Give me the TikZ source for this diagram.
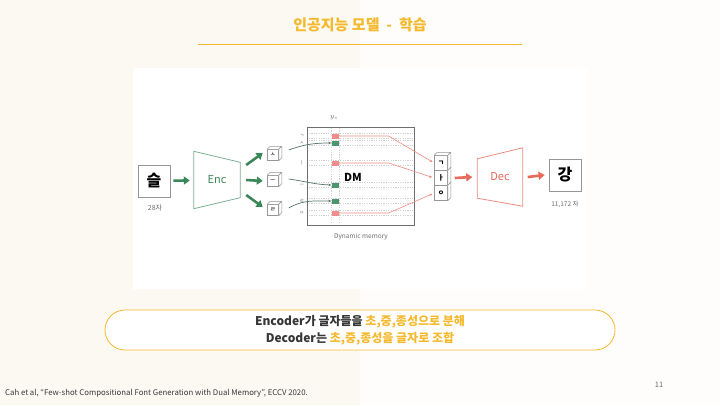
\documentclass[tikz,border=0pt]{standalone}
\usepackage{fontspec}
\setmainfont{Noto Sans CJK KR}
\usetikzlibrary{arrows.meta}
\definecolor{creambg}{RGB}{252,249,242}
\definecolor{titleyellow}{RGB}{245,185,45}
\definecolor{textdark}{RGB}{55,55,55}
\definecolor{labelgrey}{RGB}{110,110,110}
\definecolor{boxgrey}{RGB}{150,150,150}
\definecolor{encgreen}{RGB}{60,135,90}
\definecolor{encline}{RGB}{125,178,145}
\definecolor{decred}{RGB}{230,105,90}
\definecolor{decline}{RGB}{236,140,128}
\definecolor{slotgreen}{RGB}{75,150,110}
\definecolor{slotred}{RGB}{240,140,140}
\definecolor{writeteal}{RGB}{85,115,105}

\begin{document}
\begin{tikzpicture}[x=1pt,y=-1pt]
        \tikzstyle{every node}+=[inner sep=0pt]
        \tikzstyle{glyphbox}=[draw=boxgrey,line width=0.8pt,fill=white,minimum size=32pt,font=\bfseries\fontsize{16}{16}\selectfont]
        \tikzstyle{cubebox}=[draw=boxgrey,line width=0.5pt,fill=white,minimum width=11pt,minimum height=11pt,font=\fontsize{6}{6}\selectfont]
        \tikzstyle{stackbox}=[cubebox,minimum width=13pt,minimum height=15pt,font=\bfseries\fontsize{7}{7}\selectfont]
        \tikzstyle{cubeline}=[draw=boxgrey,line width=0.5pt,fill=white,line join=round]
        \tikzstyle{greenarrow}=[encgreen,line width=2.6pt,-{Triangle[length=6pt,width=8pt]}]
        \tikzstyle{redarrow}=[decred,line width=2.6pt,-{Triangle[length=6pt,width=8pt]}]
        \tikzstyle{readline}=[decline,line width=0.6pt,-{Stealth[length=3pt,width=2.5pt]}]
        \tikzstyle{writeline}=[writeteal,line width=0.7pt,-{Stealth[length=3pt,width=2.5pt]}]
        \tikzstyle{slot}=[minimum width=7pt,minimum height=5pt]
        \tikzstyle{rowline}=[boxgrey!45,dash pattern=on 1.2pt off 1.2pt,line width=0.4pt]
        \tikzstyle{tinylabel}=[text=labelgrey,font=\fontsize{5}{5}\selectfont]
        \tikzstyle{smalllabel}=[text=labelgrey,font=\fontsize{7}{7}\selectfont]
        \fill[creambg] (0,0) rectangle (360,405);
        \fill[white!70!creambg] (360,0) rectangle (720,405);
        \fill[white] (133,68) rectangle (588,289);
        \node[text=titleyellow,font=\bfseries\fontsize{15}{15}\selectfont] (title) at (360,25) {인공지능 모델 \ - \ 학습};
        \draw[titleyellow,line width=0.7pt] (198,44) -- (522,44);
        \node[glyphbox] (in) at (154,181) {슬};
        \node[smalllabel] (inlabel) at (155,208) {28자};
        \node[minimum width=46pt,minimum height=57pt] (enc) at (217,180) {};
        \draw[encline,line width=0.8pt,fill=white] (enc.north west) -- ([shift={(0,11)}]enc.north east) -- ([shift={(0,-11)}]enc.south east) -- (enc.south west) -- cycle;
        \node[text=encgreen,font=\fontsize{11}{11}\selectfont] (enclabel) at (enc) {Enc};
        \node[cubebox] (c1) at (273,155) {ㅅ};
        \node[cubebox] (c2) at (273,181) {ㅡ};
        \node[cubebox] (c3) at (273,210) {ㄹ};
        \node[stackbox] (s1) at (441,163) {ㄱ};
        \node[stackbox] (s2) at (441,178) {ㅏ};
        \node[stackbox] (s3) at (441,193) {ㅇ};
        \foreach \c in {c1,c2,c3,s1}
          \draw[cubeline] (\c.north west) -- ([shift={(3,-3)}]\c.north west) -- ([shift={(3,-3)}]\c.north east) -- (\c.north east) -- cycle;
        \foreach \c in {c1,c2,c3,s1,s2,s3}
          \draw[cubeline] (\c.north east) -- ([shift={(3,-3)}]\c.north east) -- ([shift={(3,-3)}]\c.south east) -- (\c.south east) -- cycle;
        \draw[greenarrow,shorten <=3pt,shorten >=4pt] (in) -- (enc);
        \draw[greenarrow] ([shift={(6,-15)}]enc.east) -- ([shift={(-4.5,-2)}]c1.west);
        \draw[greenarrow] ([shift={(6,0)}]enc.east) -- ([shift={(-4.5,0)}]c2.west);
        \draw[greenarrow] ([shift={(6,15)}]enc.east) -- ([shift={(-4.5,-3)}]c3.west);
        \foreach \y/\lab in {136/ㄱ,143/ㅅ,163/ㅣ,185/ㅡ,201/ㄹ,213/ㅇ}{
          \draw[rowline] (309,\y-2.5) -- (413,\y-2.5);
          \draw[rowline] (309,\y+2.5) -- (413,\y+2.5);
          \node[tinylabel] (lab\y) at (302,\y) {\lab};
        }
        \draw[rowline] (331,128) -- (331,224);
        \draw[rowline] (339,128) -- (339,224);
        \node[draw=labelgrey,line width=0.8pt,minimum width=107pt,minimum height=98pt] (dm) at (361,176) {};
        \node[font=\bfseries\fontsize{11}{11}\selectfont] (dmlabel) at (353,177) {DM};
        \node[text=labelgrey,font=\fontsize{7}{7}\selectfont] (ys) at (334,118) {$y_s$};
        \node[smalllabel,font=\fontsize{6.5}{6.5}\selectfont] (dmname) at (361,237) {Dynamic memory};
        \node[slot,fill=slotred] (r1) at (335,136) {};
        \node[slot,fill=slotgreen] (g1) at (335,143) {};
        \node[slot,fill=slotred] (r2) at (335,163) {};
        \node[slot,fill=slotgreen] (g2) at (335,185) {};
        \node[slot,fill=slotgreen] (g3) at (335,201) {};
        \node[slot,fill=slotred] (r3) at (335,213) {};
        \draw[writeline] ([shift={(10,-5)}]c1.east) to[out=20,in=180] (g1.west);
        \draw[writeline] ([shift={(10,-2)}]c2.east) to[out=-8,in=178] (g2.west);
        \draw[writeline] ([shift={(10,-2)}]c3.east) to[out=30,in=180] (g3.west);
        \draw[readline,shorten >=2pt] (r1.east) -- ++(50,0) -- (s1.west);
        \draw[readline,shorten >=2pt] (r2.east) -- ++(50,0) -- (s2.west);
        \draw[readline,shorten >=2pt] (r3.east) -- ++(50,0) -- (s3.west);
        \node[minimum width=45pt,minimum height=58pt] (dec) at (500,177) {};
        \draw[decline,line width=0.8pt,fill=white] ([shift={(0,11)}]dec.north west) -- (dec.north east) -- (dec.south east) -- ([shift={(0,-8)}]dec.south west) -- cycle;
        \node[text=decred,font=\fontsize{11}{11}\selectfont] (declabel) at (dec) {Dec};
        \node[glyphbox] (out) at (565,175) {강};
        \node[smalllabel,font=\fontsize{6.5}{6.5}\selectfont] (outlabel) at (565,204) {11,172 자};
        \draw[redarrow] ([shift={(7,0)}]s2.east) -- ([shift={(-5,0)}]dec.west);
        \draw[redarrow] ([shift={(5,0)}]dec.east) -- ([shift={(-4,0)}]out.west);
        \node[draw=titleyellow,line width=0.8pt,fill=white,rounded corners=20pt,minimum width=510pt,minimum height=40pt,align=center,text=textdark,font=\bfseries\fontsize{12}{17}\selectfont] (pill) at (360,330) {Encoder가 글자들을 \textcolor{titleyellow}{초,중,종성으로 분해}\\Decoder는 \textcolor{titleyellow}{초,중,종성을 글자로 조합}};
        \node[anchor=west,text=textdark,font=\fontsize{7.8}{7.8}\selectfont] (cite) at (5,393) {Cah et al, “Few-shot Compositional Font Generation with Dual Memory”, ECCV 2020.};
        \node[text=labelgrey,font=\fontsize{7.5}{7.5}\selectfont] (pagenum) at (659,385) {11};
\end{tikzpicture}
\end{document}
